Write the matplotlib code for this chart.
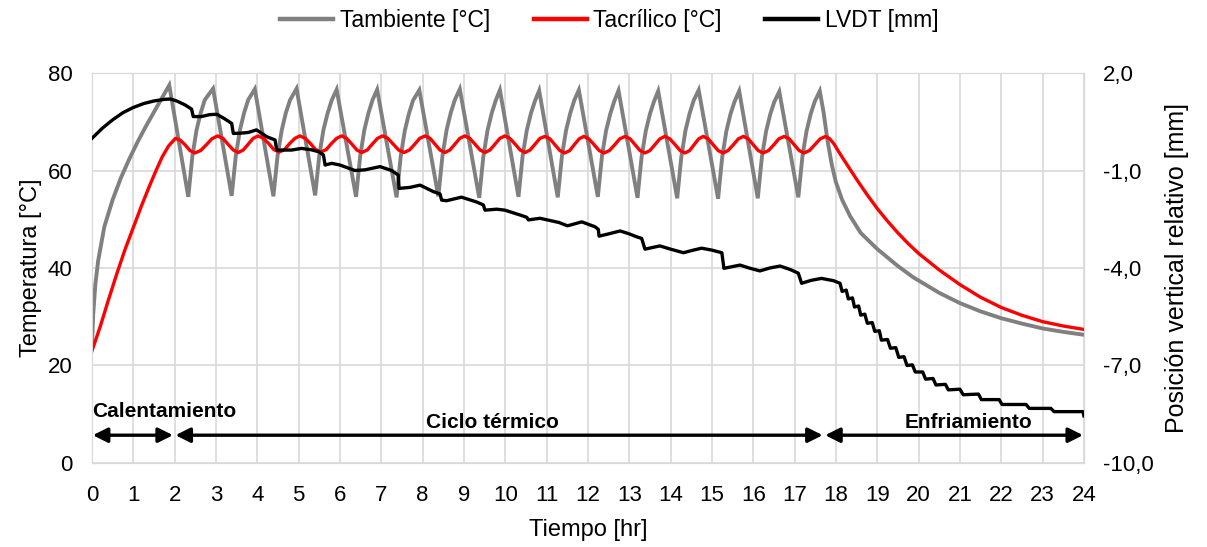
import matplotlib.pyplot as plt
from matplotlib.lines import Line2D

plt.rcParams['font.family'] = ['Liberation Sans', 'DejaVu Sans']

# Tambiente [°C] (gray)
amb_t = [0.00, 0.03, 0.08, 0.15, 0.30, 0.50, 0.70, 0.90, 1.10, 1.30, 1.60, 1.87,
         2.33, 2.37, 2.43, 2.53, 2.63, 2.73, 2.93,
         3.38, 3.42, 3.48, 3.58, 3.68, 3.78, 3.94,
         4.39, 4.43, 4.49, 4.59, 4.69, 4.79, 4.95,
         5.40, 5.44, 5.50, 5.60, 5.70, 5.80, 5.92,
         6.39, 6.43, 6.49, 6.59, 6.69, 6.79, 6.90,
         7.37, 7.41, 7.47, 7.57, 7.67, 7.77, 7.92,
         8.38, 8.42, 8.48, 8.58, 8.68, 8.78, 8.90,
         9.37, 9.41, 9.47, 9.57, 9.67, 9.77, 9.87,
         10.32, 10.36, 10.42, 10.52, 10.62, 10.72, 10.82,
         11.27, 11.31, 11.37, 11.47, 11.57, 11.67, 11.78,
         12.24, 12.28, 12.34, 12.44, 12.54, 12.64, 12.74,
         13.20, 13.24, 13.30, 13.40, 13.50, 13.60, 13.70,
         14.16, 14.20, 14.26, 14.36, 14.46, 14.56, 14.68,
         15.15, 15.19, 15.25, 15.35, 15.45, 15.55, 15.66,
         16.11, 16.15, 16.21, 16.31, 16.41, 16.51, 16.63,
         17.09, 17.13, 17.19, 17.29, 17.39, 17.49, 17.61,
         17.70, 17.80, 17.90, 18.00, 18.15, 18.34, 18.60, 19.00, 19.50,
         19.87, 20.50, 21.00, 21.50, 22.00, 22.50, 23.00, 23.50, 24.00]
amb_T = [24.0, 30.5, 36.5, 41.5, 48.5, 54.0, 58.5, 62.3, 65.8, 69.0, 73.5, 77.5,
         54.6, 58.0, 63.0, 68.3, 71.8, 74.5, 76.8,
         54.8, 58.1, 63.0, 68.3, 71.8, 74.5, 76.7,
         54.7, 58.0, 63.0, 68.2, 71.8, 74.4, 76.8,
         54.9, 58.1, 63.1, 68.3, 71.7, 74.4, 76.6,
         54.6, 58.0, 63.0, 68.3, 71.8, 74.5, 76.6,
         54.5, 57.9, 62.9, 68.2, 71.7, 74.4, 76.5,
         54.7, 58.0, 63.0, 68.3, 71.8, 74.5, 76.7,
         54.4, 57.9, 62.9, 68.2, 71.7, 74.4, 76.5,
         54.6, 58.0, 63.0, 68.2, 71.7, 74.3, 76.4,
         54.5, 57.9, 62.9, 68.2, 71.7, 74.4, 76.5,
         54.6, 58.0, 63.0, 68.2, 71.6, 74.3, 76.4,
         54.4, 57.9, 62.9, 68.1, 71.6, 74.2, 76.3,
         54.3, 57.8, 62.8, 68.2, 71.7, 74.4, 76.5,
         54.2, 57.8, 62.8, 68.1, 71.6, 74.2, 76.3,
         54.3, 57.8, 62.8, 68.0, 71.5, 74.1, 76.2,
         54.5, 57.9, 62.9, 68.1, 71.6, 74.2, 76.3,
         72.0, 66.0, 61.2, 57.6, 54.0, 50.7, 47.2, 43.9, 40.4,
         38.1, 34.9, 32.8, 31.1, 29.7, 28.6, 27.6, 26.9, 26.3]

# Tacrílico [°C] (red)
acr_t = [0.00, 0.20, 0.40, 0.60, 0.80, 1.00, 1.20, 1.40, 1.55, 1.70, 1.85,
         2.02, 2.14, 2.26, 2.37, 2.49, 2.63, 2.77, 2.90,
         3.04, 3.17, 3.29, 3.42, 3.54, 3.66, 3.78, 3.90,
         4.02, 4.15, 4.28, 4.40, 4.53, 4.66, 4.78, 4.91,
         5.03, 5.16, 5.29, 5.41, 5.54, 5.67, 5.79, 5.92,
         6.04, 6.16, 6.29, 6.41, 6.53, 6.66, 6.78, 6.91,
         7.03, 7.16, 7.29, 7.42, 7.55, 7.68, 7.81, 7.93,
         8.06, 8.18, 8.30, 8.42, 8.54, 8.66, 8.78, 8.90,
         9.02, 9.14, 9.27, 9.39, 9.51, 9.63, 9.75, 9.87,
         9.99, 10.11, 10.24, 10.36, 10.48, 10.60, 10.72, 10.84,
         10.96, 11.08, 11.20, 11.32, 11.44, 11.56, 11.67, 11.79,
         11.90, 12.02, 12.15, 12.27, 12.39, 12.52, 12.65, 12.77,
         12.90, 13.02, 13.14, 13.26, 13.38, 13.50, 13.62, 13.74,
         13.86, 13.98, 14.11, 14.23, 14.35, 14.46, 14.57, 14.68,
         14.79, 14.91, 15.03, 15.15, 15.27, 15.39, 15.52, 15.64,
         15.76, 15.88, 16.00, 16.12, 16.24, 16.37, 16.50, 16.62,
         16.75, 16.87, 16.99, 17.11, 17.23, 17.36, 17.49, 17.62,
         17.75, 17.85, 17.95, 18.05, 18.20, 18.50, 18.75, 19.00, 19.25, 19.50,
         19.75, 20.00, 20.50, 21.00, 21.50, 22.00, 22.50, 23.00, 23.50, 24.00]
acr_T = [23.0, 28.0, 33.5, 38.8, 43.8, 48.3, 52.8, 57.0, 60.0, 62.8, 65.0,
         66.6, 66.2, 65.2, 64.1, 63.6, 64.1, 65.3, 66.5,
         67.1, 66.6, 65.4, 64.2, 63.7, 64.2, 65.4, 66.6,
         67.1, 66.6, 65.5, 64.3, 63.8, 64.3, 65.5, 66.6,
         67.1, 66.6, 65.5, 64.3, 63.8, 64.3, 65.5, 66.6,
         67.1, 66.6, 65.4, 64.2, 63.7, 64.2, 65.4, 66.6,
         67.1, 66.6, 65.4, 64.2, 63.7, 64.2, 65.4, 66.6,
         67.1, 66.6, 65.4, 64.2, 63.7, 64.2, 65.4, 66.6,
         67.1, 66.6, 65.4, 64.2, 63.7, 64.2, 65.4, 66.6,
         67.1, 66.6, 65.4, 64.2, 63.7, 64.2, 65.4, 66.6,
         67.0, 66.5, 65.3, 64.1, 63.6, 64.1, 65.3, 66.5,
         67.0, 66.5, 65.3, 64.1, 63.6, 64.1, 65.3, 66.5,
         67.0, 66.5, 65.3, 64.1, 63.6, 64.1, 65.3, 66.5,
         67.0, 66.5, 65.3, 64.1, 63.6, 64.1, 65.3, 66.5,
         67.0, 66.5, 65.3, 64.1, 63.6, 64.1, 65.3, 66.5,
         67.0, 66.5, 65.3, 64.1, 63.6, 64.1, 65.3, 66.5,
         67.0, 66.5, 65.3, 64.1, 63.6, 64.1, 65.3, 66.5,
         67.0, 66.5, 65.5, 64.1, 62.1, 58.2, 55.1, 52.2, 49.6, 47.2,
         45.0, 43.0, 39.6, 36.6, 34.0, 31.9, 30.3, 29.0, 28.1, 27.4]

# LVDT [mm] (black, right axis)
lvdt_t = [0.00, 0.25, 0.50, 0.75, 1.00, 1.25, 1.50, 1.75, 1.90, 2.05,
          2.25, 2.41, 2.45, 2.65, 2.85, 3.02, 3.20, 3.38, 3.42, 3.60,
          3.78, 3.98, 4.23, 4.43, 4.47, 4.83, 5.07, 5.30, 5.48, 5.60,
          5.64, 5.80, 6.00, 6.36, 6.60, 6.97, 7.25, 7.41, 7.43, 7.69,
          7.94, 8.26, 8.42, 8.46, 8.58, 8.94, 9.31, 9.47, 9.51, 9.79,
          9.99, 10.36, 10.52, 10.56, 10.84, 11.30, 11.50, 11.57, 11.85, 12.17,
          12.25, 12.27, 12.50, 12.78, 13.00, 13.18, 13.30, 13.38, 13.74, 14.00,
          14.31, 14.55, 14.75, 15.00, 15.24, 15.29, 15.68, 15.90, 16.16, 16.40,
          16.65, 16.90, 17.09, 17.17, 17.40, 17.65, 17.94, 18.10, 18.15, 18.25,
          18.30, 18.40, 18.45, 18.55, 18.60, 18.70, 18.76, 18.88, 18.94, 19.05,
          19.10, 19.25, 19.32, 19.45, 19.52, 19.65, 19.72, 19.85, 19.92, 20.10,
          20.17, 20.35, 20.42, 20.65, 20.72, 21.00, 21.08, 21.45, 21.52, 21.95,
          22.02, 22.60, 22.68, 23.20, 23.28, 23.98, 24.00]
lvdt_mm = [-0.01, 0.30, 0.56, 0.78, 0.94, 1.06, 1.14, 1.19, 1.20, 1.14,
           1.02, 0.89, 0.66, 0.66, 0.72, 0.73, 0.60, 0.45, 0.14, 0.15,
           0.17, 0.25, 0.04, -0.06, -0.37, -0.37, -0.32, -0.36, -0.42, -0.52,
           -0.83, -0.78, -0.83, -1.00, -0.98, -0.88, -1.00, -1.14, -1.55, -1.52,
           -1.45, -1.65, -1.72, -1.91, -1.93, -1.82, -1.97, -2.06, -2.22, -2.19,
           -2.22, -2.37, -2.44, -2.52, -2.47, -2.60, -2.70, -2.68, -2.58, -2.73,
           -2.81, -3.02, -2.95, -2.86, -2.95, -3.04, -3.09, -3.42, -3.32, -3.42,
           -3.53, -3.45, -3.39, -3.45, -3.53, -4.01, -3.91, -4.00, -4.09, -4.00,
           -3.94, -4.05, -4.16, -4.47, -4.38, -4.32, -4.39, -4.47, -4.72, -4.68,
           -4.95, -4.92, -5.20, -5.17, -5.45, -5.42, -5.70, -5.68, -5.95, -5.93,
           -6.22, -6.20, -6.47, -6.45, -6.75, -6.73, -7.00, -6.98, -7.20, -7.20,
           -7.42, -7.40, -7.60, -7.58, -7.75, -7.73, -7.90, -7.88, -8.05, -8.05,
           -8.20, -8.20, -8.32, -8.32, -8.42, -8.42, -8.55]

x_ticks = list(range(0, 25))
left_ticks = [0, 20, 40, 60, 80]
right_ticks = [-10, -7, -4, -1, 2]
right_labels = ['-10,0', '-7,0', '-4,0', '-1,0', '2,0']

# phases: (label, start, end, text x, text y, alignment)
phases = [('Calentamiento', 0.02, 1.96, 0.0, 10.6, 'left'),
          ('Ciclo térmico', 2.02, 17.68, 9.7, 8.4, 'center'),
          ('Enfriamiento', 17.74, 23.98, 21.2, 8.4, 'center')]
arrow_y = 5.7

grid_c = '#d9d9d9'

fig = plt.figure(figsize=(12.07, 5.47), dpi=100)
ax = fig.add_axes([0.0762, 0.1536, 0.8218, 0.7129])

ax.plot(amb_t, amb_T, color='#808080', lw=2.8, solid_joinstyle='miter', zorder=3)
ax.plot(acr_t, acr_T, color='#ff0000', lw=2.4, zorder=4)

ax.set_xlim(0, 24)
ax.set_ylim(0, 80)
ax.set_xticks(x_ticks)
ax.set_yticks(left_ticks)
ax.grid(color=grid_c, lw=1.2)
ax.set_axisbelow(True)
ax.tick_params(length=0, labelsize=16, pad=16)
ax.tick_params(axis='y', pad=14)
for s in ax.spines.values():
    s.set_color(grid_c)

ax.set_xlabel('Tiempo [hr]', fontsize=17, labelpad=9)
ax.set_ylabel('Temperatura [°C]', fontsize=17, labelpad=4)

for name, x0, x1, tx, ty, ha in phases:
    ax.annotate('', xy=(x0, arrow_y), xytext=(x1, arrow_y),
                arrowprops=dict(arrowstyle='<|-|>', color='black', lw=2.4,
                                mutation_scale=22, shrinkA=0, shrinkB=0))
    ax.text(tx, ty, name, fontsize=15, fontweight='bold', ha=ha, va='center')

ax2 = ax.twinx()
ax2.plot(lvdt_t, lvdt_mm, color='black', lw=2.4, zorder=5)
ax2.set_ylim(-10, 2)
ax2.set_yticks(right_ticks)
ax2.set_yticklabels(right_labels)
ax2.tick_params(length=0, labelsize=16, pad=14)
for s in ax2.spines.values():
    s.set_color(grid_c)
ax2.set_ylabel('Posición vertical relativo [mm]', fontsize=18, labelpad=8)

handles = [Line2D([], [], color='#808080', lw=3.2),
           Line2D([], [], color='#ff0000', lw=3.2),
           Line2D([], [], color='black', lw=3.2)]
labels = ['Tambiente [°C]', 'Tacrílico [°C]', 'LVDT [mm]']
fig.legend(handles, labels, loc='center', bbox_to_anchor=(0.505, 0.963), ncol=3,
           frameon=False, fontsize=16.5, handlelength=2.3, handletextpad=0.3,
           columnspacing=1.9)

fig.savefig('out.png', dpi=100)
